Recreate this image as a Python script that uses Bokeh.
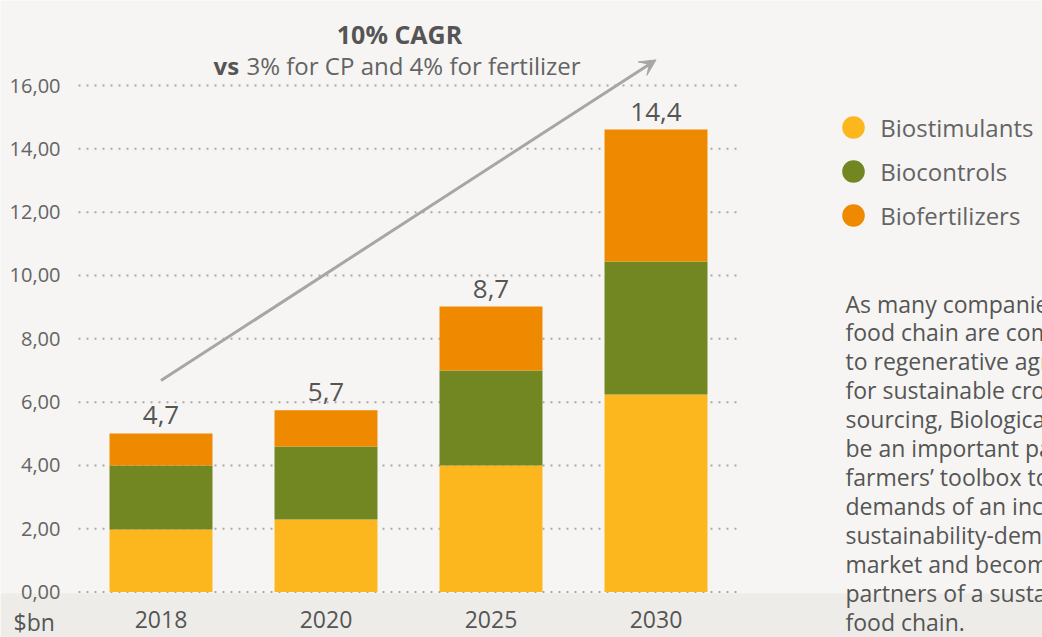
from bokeh.plotting import figure
from bokeh.models import (Range1d, FixedTicker, ColumnDataSource, Legend, LegendItem, Label,
                          BoxAnnotation, Arrow, VeeHead)
from bokeh.core.properties import value
from bokeh.embed import file_html
from bokeh.resources import INLINE

# ---------------- data ----------------
years = ["2018", "2020", "2025", "2030"]
biostimulants = [1.98, 2.29, 4.00, 6.24]
biocontrols = [2.02, 2.31, 3.00, 4.20]
biofertilizers = [1.01, 1.14, 2.02, 4.17]
total_labels = ["4,7", "5,7", "8,7", "14,4"]
series_names = ["Biostimulants", "Biocontrols", "Biofertilizers"]
series_colors = ["#fdb71e", "#728721", "#ef8900"]
y_ticks = [0, 2, 4, 6, 8, 10, 12, 14, 16]
y_tick_labels = ["0,00", "2,00", "4,00", "6,00", "8,00", "10,00", "12,00", "14,00", "16,00"]
unit_label = "$bn"
title_text = "10% CAGR"
subtitle_bold = "vs"
subtitle_rest = "3% for CP and 4% for fertilizer"
trend_start = ("2018", 6.68)
trend_end = ("2030", 16.81)
note_lines = [
    "As many companies in the",
    "food chain are committed",
    "to regenerative agriculture",
    "for sustainable crop",
    "sourcing, Biologicals will",
    "be an important part of",
    "farmers\u2019 toolbox to meet the",
    "demands of an increasingly",
    "sustainability-demanding",
    "market and become key",
    "partners of a sustainable",
    "food chain.",
]

# ---------------- style ----------------
FONT = "Open Sans"
BG = "#f6f5f3"
BAND = "#edece8"
DARK = "#555555"
MID = "#646464"
GRID = "#a9a9a9"
W, H = 1042, 637

keys = ["biostimulants", "biocontrols", "biofertilizers"]
xpos = [i + 0.5 for i in range(len(years))]
totals = [a + b + c for a, b, c in zip(biostimulants, biocontrols, biofertilizers)]
source = ColumnDataSource(dict(x=xpos, year=years, biostimulants=biostimulants,
                               biocontrols=biocontrols, biofertilizers=biofertilizers,
                               total=totals, label=total_labels))

x_range = Range1d(-0.4727, 5.8424)
y_range = Range1d(-1.434, 18.686)
p = figure(width=W, height=H, x_range=x_range, y_range=y_range,
           output_backend="svg", toolbar_location=None,
           min_border_left=0, min_border_right=0, min_border_top=0, min_border_bottom=0)
p.background_fill_color = BG
p.border_fill_color = BG
p.outline_line_color = None

# band under the x axis
band = BoxAnnotation(left=x_range.start, right=x_range.end, bottom=y_range.start, top=-0.044,
                     fill_color=BAND, fill_alpha=1, line_color=None, level="underlay")
p.add_layout(band)

# grid (dotted lines spanning the category area only)
p.xgrid.visible = False
p.ygrid.visible = False
p.segment(x0=[0] * len(y_ticks), x1=[len(years)] * len(y_ticks), y0=y_ticks, y1=y_ticks,
          line_color=GRID, line_width=2, line_dash="2 6", level="underlay")

# axes (fixed inside the canvas)
p.yaxis.fixed_location = 0
p.xaxis.fixed_location = 0
p.yaxis.ticker = FixedTicker(ticks=y_ticks)
p.yaxis.major_label_overrides = {t: s for t, s in zip(y_ticks, y_tick_labels)}
p.xaxis.ticker = FixedTicker(ticks=xpos)
p.xaxis.major_label_overrides = {x: y for x, y in zip(xpos, years)}
for ax in (p.xaxis[0], p.yaxis[0]):
    ax.axis_line_color = None
    ax.major_tick_line_color = None
    ax.minor_tick_line_color = None
    ax.major_tick_out = 0
    ax.major_tick_in = 0
    ax.major_label_text_font = FONT
p.yaxis.major_label_standoff = 18
p.yaxis.major_label_text_font_size = "20px"
p.yaxis.major_label_text_color = MID
p.xaxis.major_label_standoff = 19
p.xaxis.major_label_text_font_size = "23px"
p.xaxis.major_label_text_color = DARK

# bars
p.vbar_stack(keys, x="x", width=0.624, color=series_colors, line_width=0, source=source)

# total labels
p.text(x="x", y="total", text="label", source=source, text_align="center",
       text_baseline="alphabetic", y_offset=-18, text_font=value(FONT),
       text_font_size="26px", text_color=DARK)

# trend arrow
xs = years.index(trend_start[0]) + 0.5
xe = years.index(trend_end[0]) + 0.5
p.add_layout(Arrow(x_start=xs, y_start=trend_start[1], x_end=xe, y_end=trend_end[1],
                   line_color="#a6a6a6", line_width=3,
                   end=VeeHead(size=16, fill_color="#a6a6a6", line_color="#a6a6a6", line_width=1)))

# titles
p.add_layout(Label(x=399, y=H - 33, x_units="screen", y_units="screen", text=title_text,
                   text_align="center", text_baseline="alphabetic", text_font=FONT,
                   text_font_size="25px", text_font_style="bold", text_color=DARK))
p.add_layout(Label(x=213, y=H - 65, x_units="screen", y_units="screen", text=subtitle_bold,
                   text_align="left", text_baseline="alphabetic", text_font=FONT,
                   text_font_size="24px", text_font_style="bold", text_color=DARK))
p.add_layout(Label(x=246, y=H - 65, x_units="screen", y_units="screen", text=subtitle_rest,
                   text_align="left", text_baseline="alphabetic", text_font=FONT,
                   text_font_size="24px", text_color=MID))

# unit label
p.add_layout(Label(x=13, y=H - 621, x_units="screen", y_units="screen", text=unit_label,
                   text_align="left", text_baseline="middle", text_font=FONT,
                   text_font_size="23px", text_color=DARK))

# legend (circle markers; stroke widens the small legend marker)
nan = float("nan")
items = []
for name, col in zip(series_names, series_colors):
    r = p.scatter(x=[nan], y=[nan], marker="circle", size=22, fill_color=col,
                  line_color=col, line_width=5)
    items.append(LegendItem(label=name, renderers=[r]))
legend = Legend(items=items, location=(831.3, H - 237.3), glyph_width=44, glyph_height=44,
                spacing=0, padding=0, margin=0, label_standoff=5,
                label_text_font=FONT, label_text_font_size="24px", label_text_color=MID,
                background_fill_alpha=0, border_line_alpha=0)
p.add_layout(legend)

# note text
p.add_layout(Label(x=845, y=H - 287, x_units="screen", y_units="screen", text="\n".join(note_lines),
                   text_align="left", text_baseline="top", text_line_height=0.905,
                   text_font=FONT, text_font_size="23px", text_color=DARK))

open("out.html", "w").write(file_html(p, INLINE))
